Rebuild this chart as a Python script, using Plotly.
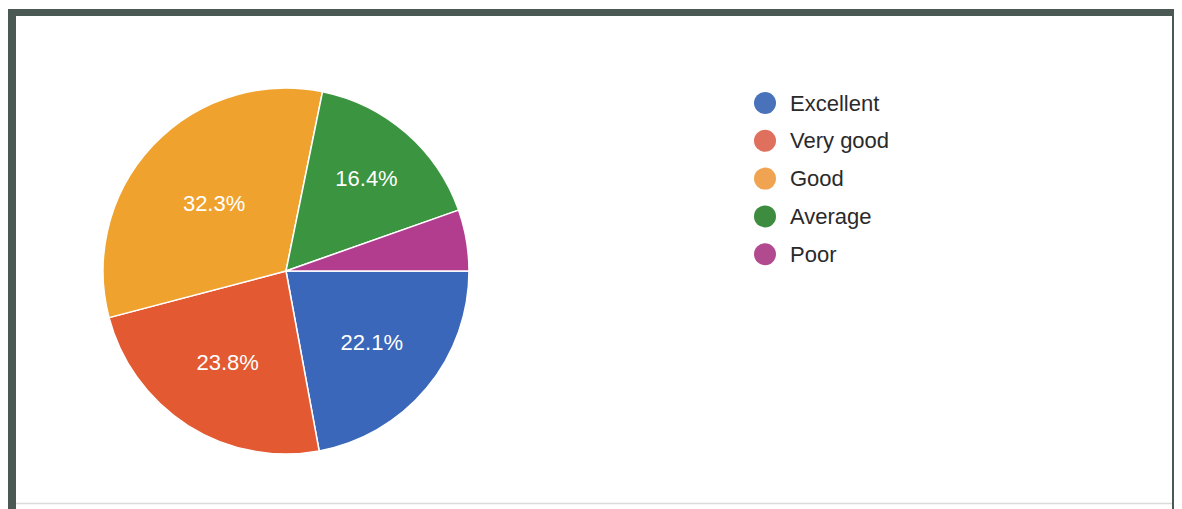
import plotly.graph_objects as go

labels = ["Excellent", "Very good", "Good", "Average", "Poor"]
values = [22.1, 23.8, 32.3, 16.4, 5.4]
slice_text = ["22.1%", "23.8%", "32.3%", "16.4%", ""]
slice_colors = ["#3a67b9", "#e35a32", "#f0a22e", "#3b9440", "#b23d8f"]
legend_colors = ["#4a72bb", "#e0705e", "#f0a452", "#3e8c40", "#b24a90"]

# The page body has an 8px margin, so the figure is sized to fill the rest
OFF = 8
W, H = 1182 - OFF, 509 - OFF


def px(x):
    return (x - OFF) / W


def py(y):
    return (H - (y - OFF)) / H


cx, cy, r = 286, 271, 183

fig = go.Figure()
fig.add_trace(go.Pie(
    labels=labels,
    values=values,
    text=slice_text,
    textinfo="text",
    textposition="inside",
    insidetextorientation="horizontal",
    textfont=dict(color="white", size=22, family="Liberation Sans, Arial, sans-serif"),
    marker=dict(colors=slice_colors, line=dict(color="white", width=1.5)),
    sort=False,
    direction="clockwise",
    rotation=90,
    showlegend=False,
    hoverinfo="label+percent",
    domain=dict(x=[px(cx - r), px(cx + r)], y=[py(cy + r), py(cy - r)]),
))

frame = "#4b5955"
shapes = [
    dict(type="line", xref="paper", yref="paper", x0=px(12), x1=px(12), y0=py(9), y1=py(512),
         line=dict(color=frame, width=8)),
    dict(type="line", xref="paper", yref="paper", x0=px(8), x1=px(1179), y0=py(12.5), y1=py(12.5),
         line=dict(color=frame, width=7)),
    dict(type="line", xref="paper", yref="paper", x0=px(1175.5), x1=px(1175.5), y0=py(9), y1=py(512),
         line=dict(color=frame, width=7)),
    dict(type="line", xref="paper", yref="paper", x0=px(16), x1=px(1172), y0=py(503.5), y1=py(503.5),
         line=dict(color="#dcdcdc", width=1.5)),
]
annotations = []
leg_x, leg_y0, leg_dy, mr = 765, 103, 37.8, 11
for i, (lab, col) in enumerate(zip(labels, legend_colors)):
    yy = leg_y0 + i * leg_dy
    shapes.append(dict(type="circle", xref="paper", yref="paper",
                       x0=px(leg_x - mr), x1=px(leg_x + mr),
                       y0=py(yy + mr), y1=py(yy - mr),
                       fillcolor=col, line=dict(width=0)))
    annotations.append(dict(x=px(788), y=py(yy), xref="paper", yref="paper",
                            text=lab, showarrow=False, xanchor="left", yanchor="middle",
                            font=dict(size=22, color="#2a2a2a",
                                      family="Liberation Sans, Arial, sans-serif")))

fig.update_layout(
    width=W, height=H,
    margin=dict(l=0, r=0, t=0, b=0),
    paper_bgcolor="white",
    plot_bgcolor="white",
    shapes=shapes,
    annotations=annotations,
)
fig.write_html("out.html")
